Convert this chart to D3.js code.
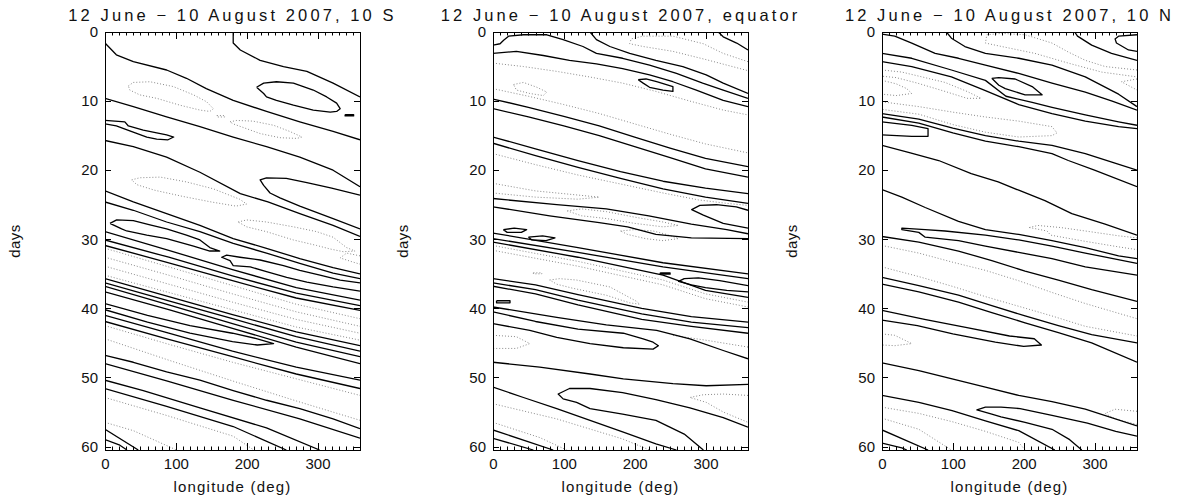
<!DOCTYPE html>
<html>
<head>
<meta charset="utf-8">
<script src="https://cdn.jsdelivr.net/npm/d3@7/dist/d3.min.js"></script>
<style>
  html, body { margin: 0; padding: 0; background: #fff; }
  svg { display: block; }
  text { font-family: "Liberation Sans", Arial, sans-serif; fill: #111; }
</style>
</head>
<body>
<svg id="chart" width="1185" height="502"></svg>
<script>
// Hovmoller diagrams: longitude (deg) vs days since 12 June 2007.
// Each contour is a list of [longitude, day] vertices; "pos" contours are
// drawn solid, "neg" contours dotted.

const panelTitles = [
  "12 June \u2212 10 August 2007, 10 S",
  "12 June \u2212 10 August 2007, equator",
  "12 June \u2212 10 August 2007, 10 N"
];
const lonTicks = [0, 100, 200, 300];
const dayTicks = [0, 10, 20, 30, 40, 50, 60];
const lonDomain = [0, 360];
const dayDomain = [0, 60.5];

// ---- 10 S ----
const pos10S = [
  [[0,1.6],[16,3.3],[40,4.3],[87,5.5],[115,6.7],[143,8.2],[181,9.9],[228,11.5],[275,13.0],[322,14.4],[360,15.6]],
  [[181,0],[181,1.6],[191,2.6],[219,4.1],[252,5.0],[285,5.7],[322,7.4],[360,9.4]],
  [[214,8.0],[224,7.4],[242,7.2],[266,7.4],[294,8.4],[313,9.4],[327,10.3],[332,11.1],[327,11.5],[318,11.6],[294,11.3],[266,10.6],[242,9.9],[228,9.4],[224,8.9],[214,8.0]],
  [[339,11.95],[351,11.95],[351,12.15],[339,12.15],[339,11.95]],
  [[0,9.6],[40,10.8],[87,12.3],[134,13.7],[181,15.2],[228,16.6],[275,18.1],[322,20.0],[360,22.4]],
  [[0,12.8],[28,13.0],[33,13.6],[54,14.2],[73,14.6],[87,14.9],[97,15.2],[89,15.6],[73,15.5],[59,15.2],[35,14.3],[16,13.6],[0,13.3]],
  [[0,15.7],[40,16.6],[87,18.1],[134,20.3],[191,23.4],[230,24.6],[275,26.3],[322,28.0],[360,29.6]],
  [[360,23.6],[320,22.6],[285,21.8],[256,21.2],[228,21.1],[219,21.4],[224,22.2],[233,23.3],[247,24.0],[275,25.2],[322,27.0],[360,28.5]],
  [[0,23.0],[40,24.6],[87,26.3],[134,28.0],[181,29.9],[228,31.3],[275,32.8],[322,34.1],[360,35.0]],
  [[0,24.6],[40,25.8],[87,27.5],[134,28.9],[181,30.6],[228,32.0],[275,33.5],[322,34.9],[360,35.7]],
  [[7,27.7],[16.5,27.2],[40,27.3],[63.5,27.9],[87,28.5],[115,29.4],[134,30.1],[148,31.2],[162,31.7],[148,31.7],[125,31.0],[87,29.9],[59,29.4],[30.6,28.8],[23.5,28.5],[7,27.7]],
  [[360,36.3],[332,35.9],[303.5,35.2],[275,34.5],[252,33.8],[219,33.0],[190.6,32.6],[171.8,32.3],[164.7,32.6],[176.5,33.1],[181,33.8],[205,34.0],[228,34.7],[256.5,35.5],[285,36.2],[322,36.9],[360,37.5]],
  [[0,28.9],[90,31.6],[180,34.4],[270,37.0],[360,38.8]],
  [[0,30.1],[90,32.6],[180,35.3],[270,37.8],[360,39.6]],
  [[0,30.9],[90,33.4],[180,36.0],[270,38.5],[360,40.3]],
  [[0,35.7],[90,38.3],[180,40.9],[270,43.4],[360,45.4]],
  [[0,36.3],[90,38.9],[180,41.5],[270,44.1],[360,46.2]],
  [[0,36.8],[90,39.5],[180,42.2],[270,44.9],[360,47.0]],
  [[0,37.6],[90,40.2],[180,42.9],[270,45.6],[360,48.0]],
  [[0,39.3],[60,41.0],[120,42.5],[180,43.6],[215,44.4],[238,45.1],[215,45.3],[180,44.8],[120,43.6],[60,42.0],[0,40.2]],
  [[0,41.0],[90,43.6],[180,46.2],[270,48.5],[360,50.4]],
  [[0,41.9],[90,44.5],[180,47.0],[270,49.5],[360,51.6]],
  [[0,46.8],[40,47.8],[87,49.2],[134,50.4],[181,51.9],[228,53.3],[275,54.5],[322,56.0],[360,57.4]],
  [[0,48.0],[87,50.5],[181,53.3],[275,56.0],[360,58.8]],
  [[0,50.4],[54,51.9],[134,54.4],[228,57.3],[303,60.5]],
  [[0,51.6],[87,54.2],[181,57.1],[256,60.5]],
  [[0,57.5],[47,60.5]],
  [[0,59.0],[21,59.8],[31,60.5]]
];
const neg10S = [
  [[33,7.8],[40,7.3],[63.5,7.2],[96.5,7.9],[125,9.1],[143.5,10.1],[153,11.1],[148,11.5],[134,11.3],[106,10.6],[73,9.6],[49,9.1],[35,8.4],[33,7.8]],
  [[158,12.1],[169,12.1],[169,12.3],[158,12.3],[158,12.1]],
  [[176.5,13.0],[186,12.8],[209,12.9],[238,13.5],[261,14.4],[278,15.2],[271,15.4],[247,15.3],[219,14.7],[200,14.0],[181,13.3],[176.5,13.0]],
  [[37.6,21.4],[49,21.1],[78,21.0],[115,21.7],[153,22.7],[190,24.2],[200,24.9],[185,25.2],[150,24.6],[110,23.8],[70,22.9],[45,22.1],[37.6,21.4]],
  [[188,27.5],[200,27.2],[228,27.5],[266,28.2],[299,28.9],[322,29.7],[341,31.2],[353,31.7],[336.5,31.8],[317.6,31.4],[299,30.9],[266,30.1],[228,28.9],[200,28.2],[188,27.5]],
  [[360,32.4],[341,32.0],[332,32.7],[350,33.3],[360,33.6]],
  [[0,31.3],[90,34.0],[180,36.7],[270,39.4],[360,41.5]],
  [[0,32.6],[90,35.2],[180,37.9],[270,40.5],[360,42.6]],
  [[0,33.9],[90,36.5],[180,39.1],[270,41.6],[360,43.6]],
  [[0,35.2],[90,37.7],[180,40.2],[270,42.7],[360,44.6]],
  [[0,42.5],[90,45.2],[180,47.8],[270,50.2],[360,52.6]],
  [[0,44.4],[90,47.5],[180,50.5],[270,53.4],[360,56.2]],
  [[0,52.9],[87,55.5],[181,58.5],[210,60.5]],
  [[0,56.5],[40,57.7],[101,60.5]]
];

// ---- equator ----
const posEq = [
  [[0,1.9],[10,1.7],[15,1.2],[22,0.6],[43,0.4],[76,0.4],[99,1.1],[127,2.1],[146,3.1],[183,3.8],[221,4.8],[259,6.0],[296,7.4],[325,8.4],[360,9.6]],
  [[0,3.1],[33,2.8],[71,3.4],[108,4.1],[146,4.6],[183,5.3],[221,6.2],[254,7.2],[287,8.4],[325,9.9],[360,10.8]],
  [[137,0],[146,1.1],[165,2.1],[193,3.1],[230,4.1],[268,5.0],[301,6.2],[325,7.4],[360,8.9]],
  [[318,0],[325,0.7],[344,1.6],[360,2.6]],
  [[205,6.9],[216,6.8],[231,7.2],[254,7.9],[254,8.6],[240,8.4],[221,8.0],[212,7.4],[205,6.9]],
  [[0,9.7],[50,10.9],[100,12.2],[150,13.6],[200,15.2],[250,16.8],[300,18.3],[360,19.5]],
  [[0,11.1],[50,12.3],[100,13.6],[150,15.0],[200,16.6],[250,18.2],[300,19.8],[360,21.0]],
  [[0,15.2],[60,16.9],[120,18.6],[180,20.2],[240,21.6],[300,22.6],[360,23.4]],
  [[0,16.1],[60,17.9],[120,19.6],[180,21.2],[240,22.7],[300,23.9],[360,24.8]],
  [[360,25.8],[343.5,25.3],[315.5,25.0],[292,25.1],[280.5,25.7],[297,26.5],[325,27.7],[360,28.4]],
  [[14.6,28.6],[30,28.4],[47.5,28.6],[40,29.0],[20,29.0],[14.6,28.6]],
  [[50,29.7],[70,29.5],[87.5,29.8],[75,30.2],[55,30.1],[50,29.7]],
  [[0,24.1],[90,25.0],[160,25.6],[220,26.6],[280,27.8],[330,28.6],[360,29.2]],
  [[0,25.3],[80,26.6],[150,27.6],[190,28.2],[230,29.3],[280,29.8],[360,29.9]],
  [[0,29.1],[120,31.2],[240,33.4],[360,35.0]],
  [[0,29.9],[120,31.9],[240,34.0],[360,35.7]],
  [[236,34.85],[250,34.85],[250,35.05],[236,35.05],[236,34.85]],
  [[360,36.7],[320,36.0],[290,35.6],[270,35.7],[262,36.1],[280,36.6],[300,37.0],[330,37.4],[360,37.6]],
  [[0,30.4],[120,32.6],[240,35.2],[300,37.4],[360,38.4]],
  [[0,35.7],[60,36.6],[120,38.0],[210,40.0],[280,41.2],[360,42.0]],
  [[0,36.3],[60,37.3],[120,38.8],[210,40.8],[280,42.0],[360,42.8]],
  [[0,36.8],[60,37.9],[120,39.5],[210,41.6],[280,42.6],[360,43.6]],
  [[5,38.9],[24,38.9],[24,39.2],[5,39.2],[5,38.9]],
  [[0,39.8],[90,41.3],[160,42.4],[231,43.2],[278,44.4],[325,46.1],[360,47.3]],
  [[0,40.5],[60,41.9],[120,43.0],[184,43.6],[212,44.4],[226,44.9],[233.5,45.4],[226,45.9],[184,45.7],[137,45.1],[90,44.2],[52,43.2],[0,42.2]],
  [[0,47.8],[66,48.5],[137,49.5],[184,50.2],[254,50.9],[301,51.2],[360,51.0]],
  [[0,51.4],[43,52.9],[90,54.5],[137,56.2],[184,57.9],[230,59.6],[259,60.5]],
  [[360,57.2],[325,55.8],[278,54.4],[230,53.2],[183,52.2],[137,51.6],[108,51.6],[92,52.4],[99,53.1],[118,53.6],[137,54.5],[183,55.3],[230,56.2],[270,58.2],[297,60.5]],
  [[0,57.6],[85,60.5]],
  [[0,58.8],[57,60.5]]
];
const negEq = [
  [[360,4.3],[325,3.1],[297,1.7],[254,0.6],[212,0.6],[195,1.0],[193,1.7],[212,2.1],[254,2.8],[301,4.0],[360,5.6]],
  [[0,4.5],[43,5.0],[90,5.7],[136,6.5],[183,7.4],[230,8.6],[278,10.0],[325,11.3],[360,12.0]],
  [[29,7.6],[43,7.3],[62,8.0],[76,8.7],[71,9.2],[52,8.9],[33,8.4],[29,7.6]],
  [[0,8.2],[50,9.3],[100,10.5],[150,11.8],[200,13.3],[250,14.8],[300,16.2],[360,17.5]],
  [[0,17.6],[60,19.2],[120,20.7],[180,22.0],[240,23.3],[290,24.3],[330,24.8],[360,25.1]],
  [[0,21.9],[60,23.0],[120,23.6],[150,23.9],[120,24.2],[60,23.9],[0,23.3]],
  [[105,25.9],[125,25.6],[160,26.0],[200,26.8],[240,27.5],[262,28.0],[240,28.2],[200,27.7],[160,27.0],[125,26.6],[105,25.9]],
  [[180,28.8],[200,28.6],[226,28.8],[245,29.3],[262,29.9],[240,30.2],[215,29.9],[190,29.3],[180,28.8]],
  [[0,30.9],[120,33.2],[240,35.9],[300,37.9],[360,39.1]],
  [[0,31.6],[120,33.9],[240,36.6],[300,38.6],[360,39.8]],
  [[57,34.85],[69,34.85],[69,35.0],[57,35.0],[57,34.85]],
  [[80,35.9],[94,35.7],[118,35.9],[165,36.9],[203,39.0],[207,39.4],[193,39.2],[160,38.1],[113,37.1],[90,36.5],[80,35.9]],
  [[0,43.9],[33,44.1],[52,45.1],[33,45.8],[0,45.8]],
  [[254,43.9],[300,44.6],[360,45.6]],
  [[360,52.6],[325,52.4],[297,52.5],[278,52.9],[301,53.6],[325,55.0],[360,56.5]],
  [[0,53.8],[90,56.0],[183,58.9],[221,60.5]],
  [[0,56.5],[66,58.7],[104,60.5]]
];

// ---- 10 N ----
const pos10N = [
  [[0,0.3],[18,0.6],[42,1.6],[75,3.1],[108,3.8],[146,4.8],[193,6.0],[240,7.4],[287,8.7],[325,10.0],[360,11.3]],
  [[91,0],[98,0.9],[117,2.1],[146,3.1],[193,3.8],[240,4.8],[287,6.5],[334,9.0],[360,10.8]],
  [[272,0],[276,0.6],[296,1.9],[324,3.1],[360,4.1]],
  [[360,0.4],[334,0.6],[329,1.0],[331,1.6],[348,2.6],[360,2.8]],
  [[155,6.7],[165,6.6],[188,6.8],[212,7.9],[226,9.1],[202,9.1],[174,8.2],[165,7.7],[155,6.7]],
  [[0,3.1],[42,3.8],[98,5.5],[146,7.0],[175,9.3],[212,10.2],[240,10.9],[287,12.0],[334,13.0],[360,13.5]],
  [[0,4.3],[42,5.0],[98,6.5],[146,8.5],[193,10.5],[240,11.8],[287,12.9],[334,13.7],[360,14.0]],
  [[0,11.8],[52,12.6],[100,13.9],[146,15.0],[193,15.8],[240,16.4],[287,17.6],[330,19.0],[360,20.0]],
  [[0,12.3],[52,13.2],[100,14.6],[146,15.8],[193,16.6],[240,17.6],[263,18.6],[300,20.0],[360,22.4]],
  [[0,13.0],[42,13.5],[65,14.0],[65,15.1],[42,15.1],[0,14.9]],
  [[0,16.4],[40,17.5],[80,18.6],[126,20.5],[164,21.7],[193,22.9],[230,24.4],[268,26.3],[315,27.8],[360,29.4]],
  [[0,22.8],[28,23.9],[61,25.4],[108,27.4],[146,28.6],[193,29.3],[240,30.2],[287,31.2],[334,32.4],[360,32.8]],
  [[360,33.5],[287,32.0],[240,31.0],[193,30.1],[146,29.4],[89,28.8],[61,28.6],[28,28.4],[28,28.6],[52,29.0],[61,29.7],[108,30.2],[146,31.0],[193,31.9],[240,32.8],[287,34.0],[360,35.2]],
  [[0,29.6],[52,30.4],[108,31.7],[155,33.1],[202,34.6],[249,35.9],[296,37.3],[360,39.0]],
  [[0,35.5],[52,36.7],[108,38.1],[155,39.6],[202,41.1],[249,42.5],[296,43.8],[360,45.0]],
  [[0,36.5],[52,37.6],[108,39.1],[155,40.6],[202,42.1],[249,43.5],[296,45.0],[360,47.8]],
  [[0,40.3],[60,41.6],[120,42.8],[180,44.0],[215,44.4],[225,45.3],[200,45.5],[160,44.9],[100,43.7],[50,42.5],[0,41.7]],
  [[0,47.9],[52,49.0],[99,50.2],[146,51.4],[193,52.6],[240,53.5],[287,54.6],[360,57.0]],
  [[0,52.6],[52,53.6],[99,54.8],[146,56.3],[193,57.7],[244,60.5]],
  [[360,58.5],[330,57.8],[290,56.6],[240,55.5],[195,54.5],[168,54.3],[146,54.3],[134,54.7],[155,55.3],[168,55.7],[202,56.5],[240,57.5],[265,59.0],[282,60.5]],
  [[0,57.6],[65,60.5]],
  [[0,59.5],[28,60.2],[35,60.5]]
];
const neg10N = [
  [[360,5.5],[315,5.0],[287,4.1],[263,2.9],[240,1.6],[202,0.4],[169,0.2],[148,0.4],[146,1.6],[169,2.1],[216,3.1],[263,4.5],[310,5.8],[360,6.5]],
  [[360,6.8],[338,7.2],[360,8.4]],
  [[0,7.0],[20,7.5],[35,8.2],[42,8.9],[20,9.2],[0,9.0]],
  [[0,5.5],[28,5.8],[89,7.3],[120,8.6],[140,9.6],[120,9.6],[89,8.6],[50,7.4],[20,6.6],[0,6.4]],
  [[0,10.1],[52,10.8],[100,11.6],[146,12.3],[193,12.9],[240,13.7],[247,14.6],[240,15.0],[193,15.2],[146,14.5],[100,13.4],[52,11.9],[0,11.2]],
  [[208,28.3],[220,28.0],[252,28.3],[287,28.8],[334,29.5],[360,29.8]],
  [[208,28.3],[233,28.8],[238,29.4],[287,30.3],[334,31.1],[360,31.5]],
  [[0,30.9],[52,32.0],[99,33.3],[146,34.5],[193,36.0],[240,37.7],[287,39.3],[360,41.5]],
  [[0,34.0],[52,35.4],[99,36.8],[146,38.3],[193,39.7],[240,41.1],[287,42.6],[360,44.0]],
  [[0,43.7],[18,43.9],[42,45.1],[18,45.4],[0,45.3]],
  [[0,54.3],[52,55.2],[99,56.4],[146,57.8],[193,59.4],[202,60.5]],
  [[0,55.9],[52,57.5],[98,60.5]],
  [[360,54.9],[329,54.6],[315,55.2],[329,56.0],[360,56.8]]
];

const panels = [
  { title: panelTitles[0], left: 105, pos: pos10S, neg: neg10S },
  { title: panelTitles[1], left: 493, pos: posEq,  neg: negEq  },
  { title: panelTitles[2], left: 882, pos: pos10N, neg: neg10N }
];

const plotW = 255, plotTop = 32, plotBottom = 450;
const svg = d3.select("#chart");

panels.forEach(p => {
  const x = d3.scaleLinear().domain(lonDomain).range([p.left, p.left + plotW]);
  const y = d3.scaleLinear().domain(dayDomain).range([plotTop, plotBottom]);
  const g = svg.append("g");

  const clipId = "clip" + p.left;
  svg.append("clipPath").attr("id", clipId)
    .append("rect").attr("x", p.left).attr("y", plotTop)
    .attr("width", plotW).attr("height", plotBottom - plotTop);

  const line = d3.line().x(d => x(d[0])).y(d => y(d[1]));
  const cg = g.append("g").attr("clip-path", `url(#${clipId})`);

  cg.selectAll("path.neg").data(p.neg).join("path")
    .attr("class", "neg")
    .attr("d", line)
    .attr("fill", "none")
    .attr("stroke", "#8a8a8a")
    .attr("stroke-width", 1)
    .attr("stroke-dasharray", "1,2");

  cg.selectAll("path.pos").data(p.pos).join("path")
    .attr("class", "pos")
    .attr("d", line)
    .attr("fill", "none")
    .attr("stroke", "#000")
    .attr("stroke-width", 1.3)
    .attr("stroke-linejoin", "round");

  // axes: ticks point inward on all four sides
  const lonMinor = d3.range(0, 361, 10);
  const bottom = d3.axisBottom(x).tickValues(lonTicks).tickSize(0).tickPadding(8);
  g.append("g").attr("transform", `translate(0,${plotBottom})`).call(bottom)
    .call(a => a.select(".domain").remove())
    .call(a => a.selectAll("text").attr("font-size", 15).attr("fill", "#111")
      .attr("font-family", "Liberation Sans, Arial, sans-serif"));

  const tickG = g.append("g").attr("stroke", "#000").attr("stroke-width", 1);
  lonMinor.forEach(v => {
    const major = v % 100 === 0;
    const len = major ? 7 : 3.5;
    const xv = Math.round(x(v)) + 0.5;
    tickG.append("line").attr("x1", xv).attr("x2", xv)
      .attr("y1", plotBottom).attr("y2", plotBottom - len);
    tickG.append("line").attr("x1", xv).attr("x2", xv)
      .attr("y1", plotTop).attr("y2", plotTop + len);
  });

  const leftAxis = d3.axisLeft(y).tickValues(dayTicks).tickSize(0).tickPadding(7);
  g.append("g").attr("transform", `translate(${p.left},0)`).call(leftAxis)
    .call(a => a.select(".domain").remove())
    .call(a => a.selectAll("text").attr("font-size", 15).attr("fill", "#111")
      .attr("font-family", "Liberation Sans, Arial, sans-serif"));
  dayTicks.forEach(v => {
    const yv = Math.round(y(v)) + 0.5;
    tickG.append("line").attr("x1", p.left).attr("x2", p.left + 6).attr("y1", yv).attr("y2", yv);
    tickG.append("line").attr("x1", p.left + plotW).attr("x2", p.left + plotW - 6).attr("y1", yv).attr("y2", yv);
  });

  g.append("rect")
    .attr("x", p.left + 0.5).attr("y", plotTop + 0.5)
    .attr("width", plotW).attr("height", plotBottom - plotTop)
    .attr("fill", "none").attr("stroke", "#000").attr("stroke-width", 1);

  g.append("text")
    .attr("x", p.left + plotW / 2).attr("y", 21)
    .attr("text-anchor", "middle")
    .attr("font-size", 16.5)
    .attr("letter-spacing", 3.1)
    .text(p.title);

  g.append("text")
    .attr("x", p.left + plotW / 2).attr("y", 492)
    .attr("text-anchor", "middle")
    .attr("font-size", 15)
    .attr("letter-spacing", 1.2)
    .text("longitude (deg)");

  g.append("text")
    .attr("transform", `translate(${p.left - 85},${(plotTop + plotBottom) / 2}) rotate(-90)`)
    .attr("text-anchor", "middle")
    .attr("font-size", 15)
    .attr("letter-spacing", 0.5)
    .text("days");
});
</script>
</body>
</html>
